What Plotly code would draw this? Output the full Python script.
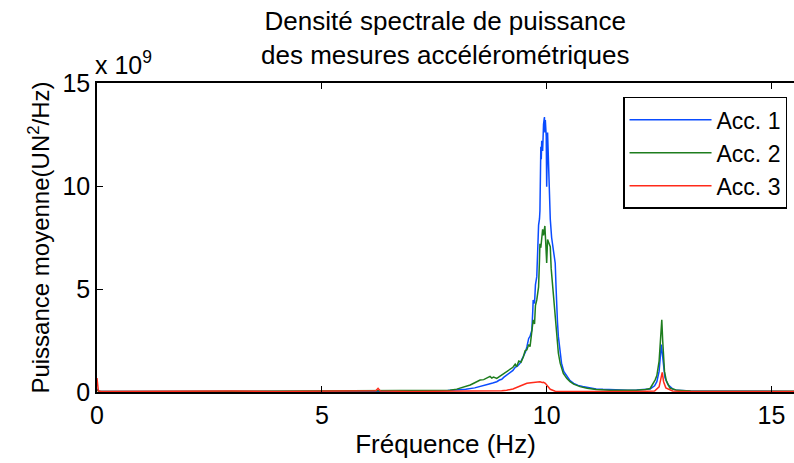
import plotly.graph_objects as go

# Frequencies (Hz) and PSD values (x 1e9 UN^2/Hz)
f_acc1 = [0.0, 0.05, 0.5, 1.5, 2.5, 3.5, 4.5, 5.5, 6.5, 7.0, 7.5, 7.8, 8.0, 8.2, 8.4, 8.52, 8.6, 8.7, 8.8,
          8.89, 8.95, 9.0, 9.05, 9.1, 9.15, 9.19, 9.25, 9.3, 9.35, 9.41, 9.45, 9.5, 9.53, 9.56, 9.6, 9.63,
          9.67, 9.69, 9.70, 9.73, 9.75, 9.78, 9.8, 9.82, 9.84, 9.85, 9.87, 9.88, 9.89, 9.91, 9.93, 9.95,
          9.96, 9.97, 9.99, 10.0, 10.02, 10.04, 10.06, 10.08, 10.11, 10.15, 10.19, 10.21, 10.22, 10.24,
          10.26, 10.3, 10.33, 10.38, 10.45, 10.52, 10.6, 10.7, 10.8, 10.89, 11.0, 11.1, 11.25, 11.4, 11.63,
          11.8, 12.0, 12.2, 12.3, 12.4, 12.45, 12.5, 12.53, 12.55, 12.57, 12.6, 12.63, 12.7, 12.8, 12.9,
          13.2, 14.0, 15.5]
p_acc1 = [0.15, 0.02, 0.02, 0.03, 0.04, 0.03, 0.03, 0.03, 0.03, 0.04, 0.05, 0.07, 0.09, 0.13, 0.2, 0.26, 0.3,
          0.38, 0.44, 0.5, 0.58, 0.62, 0.72, 0.8, 0.88, 0.92, 1.05, 1.2, 1.25, 1.4, 1.6, 1.85, 1.95, 2.2,
          2.6, 2.7, 3.0, 3.9, 4.47, 4.3, 5.2, 5.6, 7.0, 8.1, 8.4, 8.8, 11.9, 11.3, 12.2, 11.7, 13.0, 13.35,
          12.6, 13.2, 12.4, 9.97, 12.6, 11.0, 9.1, 8.4, 7.5, 6.9, 6.25, 5.0, 4.1, 3.4, 2.7, 1.9, 1.4, 1.0,
          0.74, 0.55, 0.42, 0.32, 0.27, 0.23, 0.18, 0.15, 0.13, 0.11, 0.1, 0.09, 0.1, 0.12, 0.15, 0.3, 0.5,
          1.0, 1.8, 2.3, 1.9, 1.1, 0.7, 0.35, 0.15, 0.08, 0.05, 0.04, 0.03]

f_acc2 = [0.0, 0.05, 1.0, 2.0, 3.0, 4.0, 5.0, 6.0, 7.0, 7.5, 7.85, 8.0, 8.07, 8.2, 8.3, 8.4, 8.52, 8.6, 8.65,
          8.7, 8.74, 8.78, 8.82, 8.89, 8.95, 9.0, 9.05, 9.11, 9.18, 9.25, 9.3, 9.33, 9.38, 9.43, 9.48, 9.52,
          9.56, 9.6, 9.63, 9.66, 9.70, 9.73, 9.75, 9.78, 9.8, 9.82, 9.84, 9.85, 9.87, 9.89, 9.91, 9.93, 9.96,
          9.98, 10.0, 10.02, 10.05, 10.08, 10.1, 10.13, 10.15, 10.19, 10.22, 10.26, 10.3, 10.37, 10.45,
          10.52, 10.6, 10.74, 10.9, 11.1, 11.4, 11.7, 12.0, 12.2, 12.3, 12.41, 12.45, 12.5, 12.53, 12.56,
          12.58, 12.6, 12.62, 12.66, 12.74, 12.9, 13.2, 14.0, 15.5]
p_acc2 = [0.1, 0.02, 0.02, 0.03, 0.04, 0.03, 0.03, 0.04, 0.05, 0.06, 0.08, 0.14, 0.18, 0.27, 0.34, 0.45, 0.58,
          0.6, 0.65, 0.72, 0.76, 0.68, 0.72, 0.66, 0.75, 0.82, 0.9, 0.99, 1.1, 1.2, 1.35, 1.23, 1.5, 1.45,
          1.7, 2.0, 2.05, 2.3, 2.2, 2.9, 3.5, 3.3, 4.2, 4.47, 4.9, 5.1, 6.4, 7.2, 7.0, 7.5, 7.9, 7.6, 8.06,
          7.2, 6.26, 7.4, 7.2, 7.05, 6.0, 5.2, 4.47, 3.8, 2.8, 1.88, 1.4, 0.9, 0.65, 0.5, 0.38, 0.26, 0.18,
          0.12, 0.09, 0.08, 0.09, 0.12, 0.17, 0.58, 0.8, 1.5, 2.6, 3.5, 2.5, 1.7, 1.0, 0.55, 0.19, 0.08,
          0.05, 0.04, 0.04]

f_acc3 = [0.0, 0.03, 0.1, 1.0, 2.0, 2.5, 3.0, 4.0, 5.0, 6.0, 6.2, 6.25, 6.3, 7.0, 8.0, 9.0, 9.11, 9.25, 9.41,
          9.5, 9.56, 9.65, 9.75, 9.85, 9.9, 9.93, 9.97, 10.0, 10.04, 10.08, 10.19, 10.5, 11.0, 12.0, 12.4,
          12.5, 12.55, 12.57, 12.6, 12.65, 12.8, 13.0, 15.5]
p_acc3 = [0.68, 0.05, 0.02, 0.03, 0.05, 0.07, 0.05, 0.03, 0.03, 0.03, 0.06, 0.18, 0.05, 0.03, 0.03, 0.06,
          0.08, 0.15, 0.29, 0.36, 0.42, 0.45, 0.48, 0.5, 0.46, 0.47, 0.42, 0.34, 0.22, 0.13, 0.04, 0.02,
          0.02, 0.02, 0.05, 0.25, 0.85, 0.95, 0.5, 0.2, 0.05, 0.03, 0.02]

series_names = ["Acc. 1", "Acc. 2", "Acc. 3"]
series_colors = ["#0a4cff", "#1e7d1e", "#ff2a1a"]

x_ticks = [0, 5, 10, 15]
y_ticks = [0, 5, 10, 15]

title_text = "Densité spectrale de puissance<br>des mesures accélérométriques"
x_title = "Fréquence (Hz)"
y_title = "Puissance moyenne(UN<sup>2</sup>/Hz)"
exp_label = "x 10<sup>9</sup>"

FONT = "Liberation Sans, Arial, Helvetica, sans-serif"

fig = go.Figure()
for fx, py, name, col in zip([f_acc1, f_acc2, f_acc3], [p_acc1, p_acc2, p_acc3], series_names, series_colors):
    fig.add_trace(go.Scatter(x=fx, y=py, mode="lines", name=name,
                             line=dict(color=col, width=1.5)))

fig.update_layout(
    width=794, height=463,
    margin=dict(l=97, r=0, t=83, b=71, autoexpand=False),
    paper_bgcolor="white", plot_bgcolor="white",
    font=dict(family=FONT, size=24, color="black"),
    showlegend=True,
    legend=dict(x=0.99, xanchor="right", y=0.955, yanchor="top",
                bgcolor="white", bordercolor="black", borderwidth=1.5,
                font=dict(size=23, family=FONT), itemwidth=82, tracegroupgap=0),
)
fig.update_xaxes(range=[0, 15.5], tickvals=x_ticks, ticks="inside", ticklen=6, tickcolor="black",
                 showline=True, linecolor="black", linewidth=1.5, mirror="ticks",
                 showgrid=False, zeroline=False, automargin=False,
                 title=dict(text=x_title, standoff=4, font=dict(size=26)),
                 tickfont=dict(size=25))
fig.update_yaxes(range=[0, 15], tickvals=y_ticks, ticks="inside", ticklen=6, tickcolor="black",
                 showline=True, linecolor="black", linewidth=1.5,
                 showgrid=False, zeroline=False, automargin=False,
                 title=dict(text=y_title, standoff=6, font=dict(size=24)),
                 tickfont=dict(size=25))
# two-line title
fig.add_annotation(text=title_text, xref="paper", yref="paper", x=0.5, y=1.0,
                   xanchor="center", yanchor="bottom", showarrow=False, yshift=11,
                   font=dict(size=26, family=FONT))
# exponent label
fig.add_annotation(text=exp_label, xref="paper", yref="paper", x=0.0, y=1.0,
                   xanchor="left", yanchor="bottom", showarrow=False, yshift=2, xshift=-4,
                   font=dict(size=25, family=FONT))

fig.write_html("out.html", config={"displayModeBar": False},
               post_script="document.body.style.margin='0px';")
